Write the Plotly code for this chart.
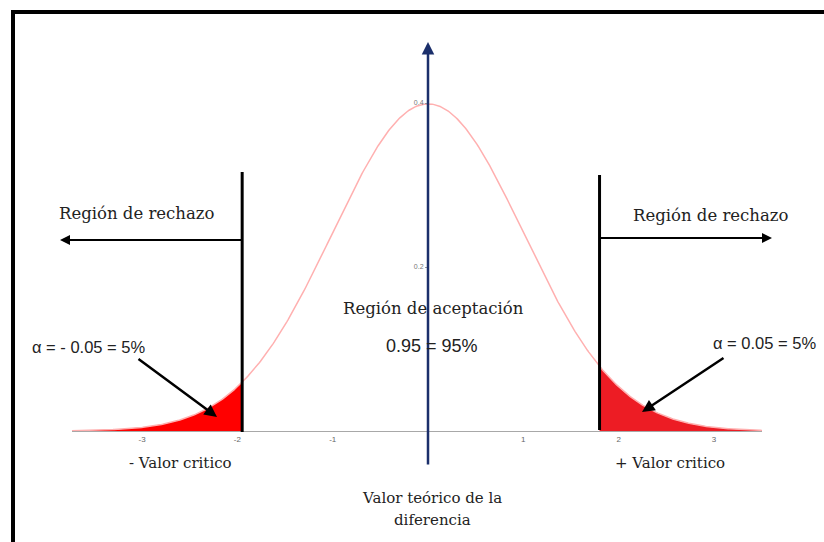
import numpy as np
import plotly.graph_objects as go

# ---- data ----
mean = 0.0
sd = 1.0
x_min, x_max = -3.74, 3.50
crit_left = -1.95
crit_right = 1.80
x_tick_vals = [-3, -2, -1, 1, 2, 3]
x_tick_text = ["-3", "-2", "-1", "1", "2", "3"]
y_tick_vals = [0.2, 0.4]
y_tick_text = ["0.2", "0.4"]

def pdf(x):
    return np.exp(-0.5 * ((x - mean) / sd) ** 2) / (sd * np.sqrt(2 * np.pi))

xs = np.linspace(x_min, x_max, 600)
xl = np.linspace(x_min, crit_left, 200)
xr = np.linspace(crit_right, x_max, 200)

W, H = 824, 542
X0PX, XSCALE = 428, 95.3      # pixel of x=0, px per unit
Y0PX, YSCALE = 431, 820       # pixel of y=0, px per unit

def px(x):
    return x / W

def py(y):
    return 1 - y / H

fig = go.Figure()
fig.add_trace(go.Scatter(x=xl, y=pdf(xl), fill="tozeroy", mode="lines",
                         line=dict(width=0, color="#ff0000"), fillcolor="#ff0000",
                         hoverinfo="skip", showlegend=False))
fig.add_trace(go.Scatter(x=xr, y=pdf(xr), fill="tozeroy", mode="lines",
                         line=dict(width=0, color="#ed1c24"), fillcolor="#ed1c24",
                         hoverinfo="skip", showlegend=False))
fig.add_trace(go.Scatter(x=xs, y=pdf(xs), mode="lines",
                         line=dict(width=1.5, color="#ffb0b0"),
                         showlegend=False))

serif = "DejaVu Serif"
sans = "Liberation Sans"

shapes = []
# frame
shapes.append(dict(type="line", xref="paper", yref="paper", x0=px(11), x1=px(W + 5),
                   y0=py(12), y1=py(12), line=dict(color="black", width=4)))
shapes.append(dict(type="line", xref="paper", yref="paper", x0=px(13), x1=px(13),
                   y0=py(10), y1=py(H + 5), line=dict(color="black", width=4)))
# critical lines
shapes.append(dict(type="line", xref="x", yref="paper", x0=crit_left, x1=crit_left,
                   y0=py(172), y1=py(432), line=dict(color="black", width=3)))
shapes.append(dict(type="line", xref="x", yref="paper", x0=crit_right, x1=crit_right,
                   y0=py(175), y1=py(430), line=dict(color="black", width=3)))

annotations = []

def arrow(hx, hy, tx, ty, color="black", width=2, head=2, size=1):
    annotations.append(dict(xref="paper", yref="paper", x=px(hx), y=py(hy),
                            ax=tx - hx, ay=ty - hy, axref="pixel", ayref="pixel",
                            text="", showarrow=True, arrowhead=head,
                            arrowsize=size, arrowwidth=width, arrowcolor=color))

def text(t, x, y, size=15, family=serif, color="#222222"):
    annotations.append(dict(xref="paper", yref="paper", x=px(x), y=py(y),
                            text=t, showarrow=False, xanchor="center", yanchor="middle",
                            font=dict(family=family, size=size, color=color)))

# y axis arrow (blue)
arrow(428, 42, 428, 466, color="#1b2f6b", width=2.5, head=2, size=1.0)
# rejection arrows
arrow(60, 240, 243, 240, width=2)
arrow(772, 238, 598, 238, width=2)
# alpha arrows
arrow(217, 417, 137, 358, width=2.5, size=1.0)
arrow(642, 412, 725, 357, width=2.5, size=1.0)

text("Región de rechazo", 136, 213, 16.5)
text("Región de rechazo", 710, 215, 16.5)
text("Región de aceptación", 433, 308, 16.5)
text("0.95 = 95%", 432, 346, 18, sans)
text("α = - 0.05 = 5%", 89, 347, 16.5, sans)
text("α = 0.05 = 5%", 764, 343, 16.5, sans)
text("- Valor critico", 180, 463, 15)
text("+ Valor critico", 670, 463, 15)
text("Valor teórico de la", 432, 498, 15)
text("diferencia", 432, 520, 15)

fig.update_layout(
    width=W, height=H,
    margin=dict(l=0, r=0, t=0, b=0),
    paper_bgcolor="white", plot_bgcolor="rgba(0,0,0,0)",
    shapes=shapes, annotations=annotations,
    xaxis=dict(domain=[72 / W, 762 / W],
               range=[(72 - X0PX) / XSCALE, (762 - X0PX) / XSCALE],
               anchor="free", position=(H - Y0PX) / H,
               showline=True, linecolor="#a8a8a8", linewidth=1.2,
               showgrid=False, zeroline=False,
               tickvals=x_tick_vals, ticktext=x_tick_text,
               ticks="", tickfont=dict(size=8, color="#666666", family=sans)),
    yaxis=dict(domain=[0, 1],
               range=[-(H - Y0PX) / YSCALE, Y0PX / YSCALE],
               anchor="free", position=X0PX / W,
               showline=False, showgrid=False, zeroline=False,
               tickvals=y_tick_vals, ticktext=y_tick_text,
               ticks="outside", ticklen=3, tickcolor="#999999",
               tickfont=dict(size=7, color="#777777", family=sans)),
)

fig.write_html("out.html", config={"displayModeBar": False},
               post_script="document.body.style.margin='0';document.body.style.overflow='hidden';")
